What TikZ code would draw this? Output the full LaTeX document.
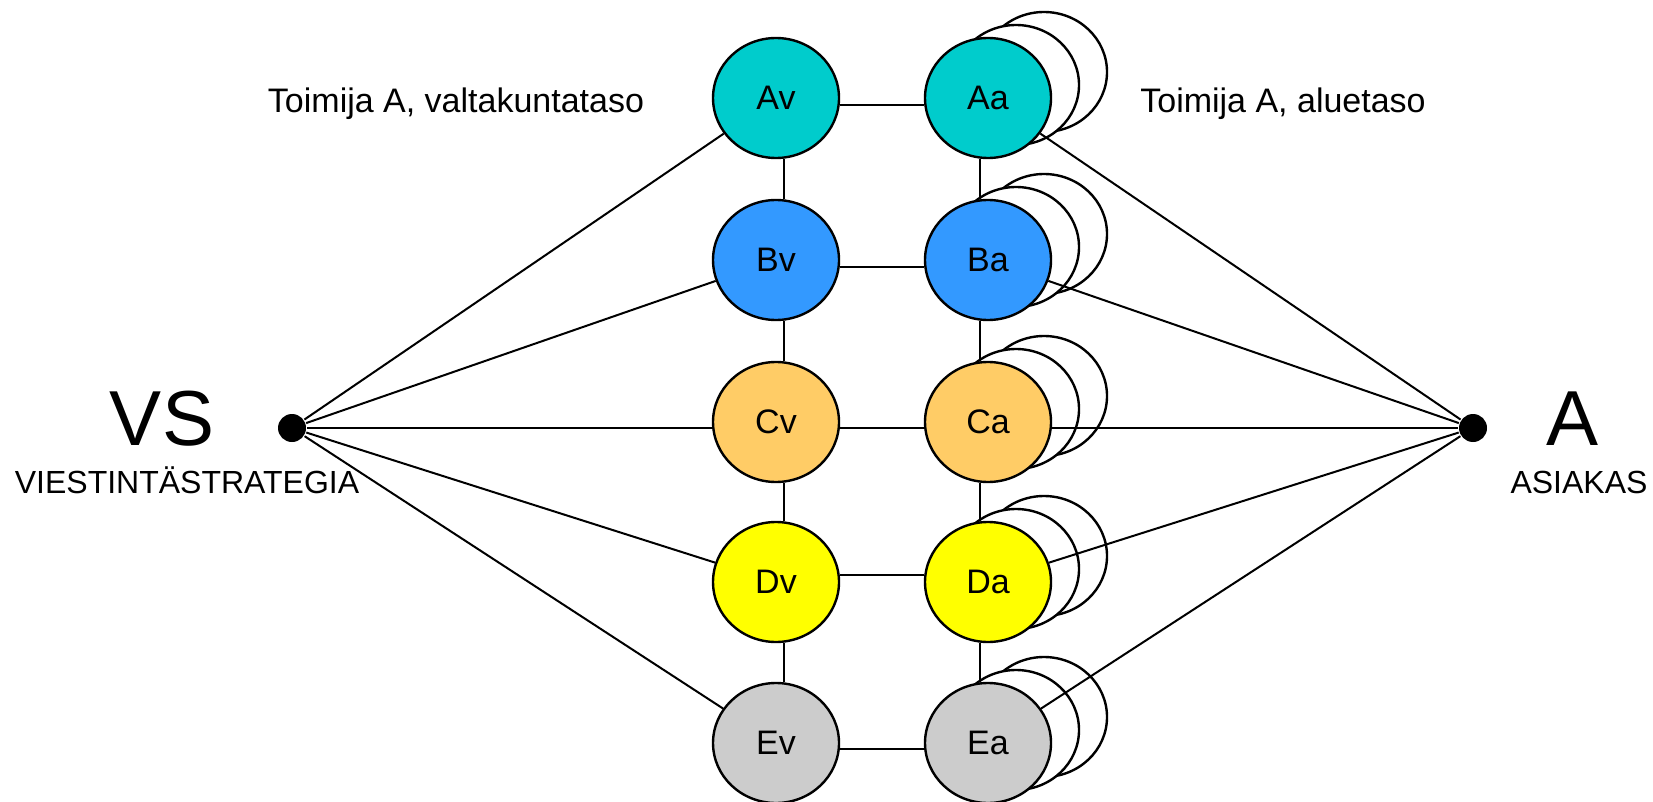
\documentclass[tikz,border=0pt]{standalone}
\usepackage{fontspec}
\setmainfont{Liberation Sans}
\usetikzlibrary{shapes.geometric}

\definecolor{tealA}{HTML}{00CCCC}
\definecolor{blueB}{HTML}{3399FF}
\definecolor{orangeC}{HTML}{FFCC66}
\definecolor{yellowD}{HTML}{FFFF00}
\definecolor{greyE}{HTML}{CCCCCC}

\begin{document}
\begin{tikzpicture}[x=0.5pt, y=-0.5pt, line width=1pt]
\useasboundingbox (0,0) rectangle (1653,802);

\tikzset{
  actor/.style={ellipse, draw, line width=1.2pt, minimum width=63pt, minimum height=60pt, inner sep=0pt, font=\fontsize{17}{20}\selectfont},
  ghost/.style={actor, fill=white},
  hub/.style={circle, fill=black, minimum size=14pt, inner sep=0pt},
  bigtag/.style={anchor=base, font=\fontsize{39}{40}\selectfont},
  smalltag/.style={anchor=base, font=\fontsize{16}{18}\selectfont},
  leveltag/.style={anchor=base, font=\fontsize{17}{20}\selectfont}
}

%Copies behind the regional actors
\foreach \row/\y in {A/98, B/260, C/422, D/582, E/743} {
  \node[ghost] (\row s2) at (1044,\y-26) {};
  \node[ghost] (\row s1) at (1016,\y-13) {};
}

%National level
\node[actor, fill=tealA] (Av) at (776,98) {Av};
\node[actor, fill=blueB] (Bv) at (776,260) {Bv};
\node[actor, fill=orangeC] (Cv) at (776,422) {Cv};
\node[actor, fill=yellowD] (Dv) at (776,582) {Dv};
\node[actor, fill=greyE] (Ev) at (776,743) {Ev};

%Regional level
\node[actor, fill=tealA] (Aa) at (988,98) {Aa};
\node[actor, fill=blueB] (Ba) at (988,260) {Ba};
\node[actor, fill=orangeC] (Ca) at (988,422) {Ca};
\node[actor, fill=yellowD] (Da) at (988,582) {Da};
\node[actor, fill=greyE] (Ea) at (988,743) {Ea};

%Strategy and customer
\node[hub] (vs) at (292,428) {};
\node[hub] (as) at (1473,428) {};
\node[bigtag] (vstag) at (162,445) {VS};
\node[smalltag] (vsname) at (187,493) {VIESTINTÄSTRATEGIA};
\node[bigtag] (astag) at (1572,445) {A};
\node[smalltag] (asname) at (1579,493) {ASIAKAS};

\node[leveltag] (vtag) at (456,113) {Toimija A, valtakuntataso};
\node[leveltag] (atag) at (1283,113) {Toimija A, aluetaso};

%Connections
\foreach \from/\to in {vs/Av, vs/Bv, vs/Dv, vs/Ev, as/Aa, as/Ba, as/Da, as/Ea}
\draw (\from) -- (\to);
\draw (vs) -- (vs -| Cv.west);
\draw (as) -- (as -| Ca.east);

\foreach \from/\to/\dy in {Av/Aa/-3.5pt, Bv/Ba/-3.5pt, Cv/Ca/-3pt, Dv/Da/3.5pt, Ev/Ea/-3pt}
\draw ([yshift=\dy]\from.east) -- ([yshift=\dy]\to.west);

\foreach \from/\to in {Av/Bv, Bv/Cv, Cv/Dv, Dv/Ev}
\draw ([xshift=4pt]\from.south) -- ([xshift=4pt]\to.north);
\foreach \from/\to in {Aa/Ba, Ba/Ca, Ca/Da, Da/Ea}
\draw ([xshift=-4pt]\from.south) -- ([xshift=-4pt]\to.north);

\end{tikzpicture}
\end{document}
